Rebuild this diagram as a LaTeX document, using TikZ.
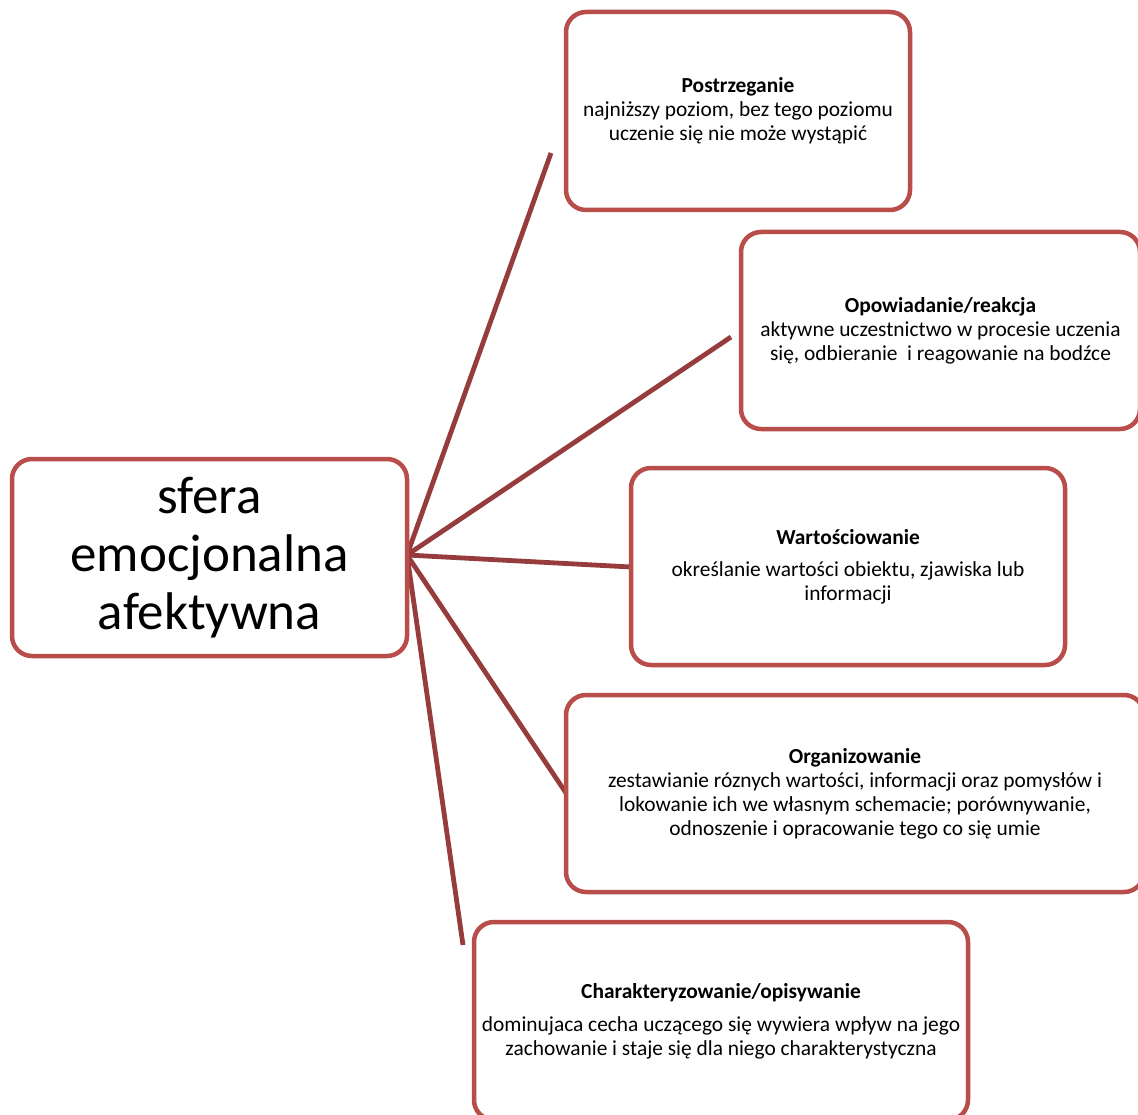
\documentclass[tikz,border=0pt]{standalone}
\usepackage{fontspec}
\setmainfont{Carlito}
\definecolor{boxred}{RGB}{185,77,74}
\definecolor{linered}{RGB}{150,60,60}
\begin{document}
\begin{tikzpicture}[x=1pt,y=-1pt,
  box/.style={draw=boxred, line width=4.5pt, rounded corners=20pt, fill=white, align=center, inner sep=0pt},
  small/.style={font=\fontsize{21.4}{24}\selectfont},
  conn/.style={draw=linered, line width=4.8pt}]
\useasboundingbox (0,0) rectangle (1138,1115);
\clip (0,0) rectangle (1138,1115);
\fill[white] (0,0) rectangle (1138,1115);
% connectors (drawn first)
\coordinate (e1) at (551,153);
\coordinate (e2) at (731,337);
\coordinate (e3) at (631,567);
\coordinate (e4) at (566,793);
\coordinate (e5) at (463,945);
\coordinate (hub) at (407,555);
\foreach \e in {e1,e2,e3,e4,e5} \draw[conn] (hub) -- (\e);
% center
\node[box, minimum width=395pt, minimum height=197pt, font=\fontsize{53}{58}\selectfont] (c) at (209.5,557.5) {sfera\\emocjonalna\\afektywna};
% boxes
\node[box, small, minimum width=344pt, minimum height=198pt] (b1) at (738,111) {\textbf{Postrzeganie}\\najniższy poziom, bez tego poziomu\\uczenie się nie może wystąpić};
\node[box, small, minimum width=399pt, minimum height=197pt] (b2) at (940.5,330.5) {\textbf{Opowiadanie/reakcja}\\aktywne uczestnictwo w procesie uczenia\\się, odbieranie\ \ i reagowanie na bodźce};
\node[box, small, minimum width=434pt, minimum height=197pt] (b3) at (848,566.5) {\textbf{Wartościowanie}\\[8pt]określanie wartości obiektu, zjawiska lub\\informacji};
\node[box, small, minimum width=578pt, minimum height=197pt] (b4) at (855,793.5) {\textbf{Organizowanie}\\zestawianie róznych wartości, informacji oraz pomysłów i\\lokowanie ich we własnym schemacie; porównywanie,\\odnoszenie i opracowanie tego co się umie};
\node[box, small, minimum width=494pt, minimum height=198pt] (b5) at (721,1021) {\textbf{Charakteryzowanie/opisywanie}\\[9pt]dominujaca cecha uczącego się wywiera wpływ na jego\\zachowanie i staje się dla niego charakterystyczna};
\end{tikzpicture}
\end{document}
